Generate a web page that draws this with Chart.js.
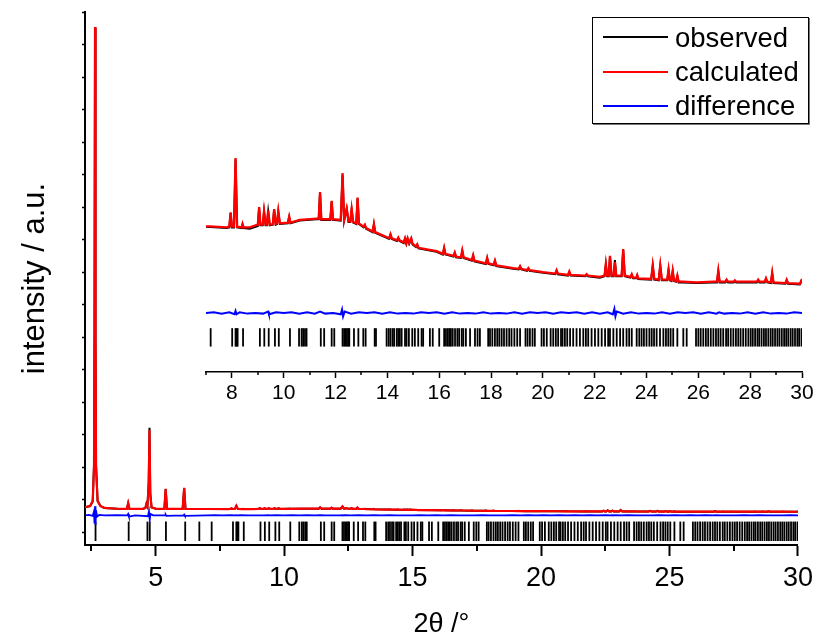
<!DOCTYPE html>
<html>
<head>
<meta charset="utf-8">
<script src="https://cdn.jsdelivr.net/npm/chart.js"></script>
<style>
  html, body { margin: 0; padding: 0; background: #fff; }
  #wrap { position: relative; width: 819px; height: 641px; }
  #wrap canvas { position: absolute; left: 0; top: 0; }
  #legend { position: absolute; left: 592px; top: 17px; width: 217px; height: 107px; box-sizing: border-box;
            border: 1px solid #000; box-shadow: 1px 1px 0 #777; background: #fff;
            font-family: "Liberation Sans", Arial, sans-serif; font-size: 27.5px; color: #000; }
  .sw { position: absolute; left: 10px; width: 65px; height: 2px; }
  .lab { position: absolute; left: 82px; line-height: 27px; white-space: nowrap; }
</style>
</head>
<body>
<div id="wrap">
  <canvas id="main" width="819" height="641"></canvas>
  <canvas id="inset" width="819" height="641"></canvas>
  <div id="legend">
    <div class="sw" style="top:18px;background:#000"></div><div class="lab" style="top:6px">observed</div>
    <div class="sw" style="top:53px;background:#ff0000"></div><div class="lab" style="top:40px">calculated</div>
    <div class="sw" style="top:87px;background:#0000ff"></div><div class="lab" style="top:74px">difference</div>
  </div>
</div>
<script>
// perfil (2theta / grados, intensidad / u.a.)
const profX = [
  2.25,2.45,2.55,2.6,2.62,2.64,2.66,2.68,2.74,2.85,
  3.0,3.5,3.88,3.93,3.98,4.5,4.6,4.64,4.68,4.73,
  4.76,4.79,4.84,5.0,5.34,5.39,5.44,6.05,6.11,6.16,
  7.0,7.8,7.9,7.95,8.0,8.08,8.14,8.2,8.38,8.41,
  8.45,8.69,9.0,9.05,9.1,9.19,9.24,9.3,9.35,9.4,
  9.46,9.58,9.63,9.69,9.74,9.79,9.85,10.16,10.21,10.26,
  10.62,11.27,11.35,11.4,11.45,11.8,11.85,11.9,12.2,12.27,
  12.33,12.43,12.5,12.57,12.62,12.68,12.8,12.85,12.9,13.08,
  13.13,13.18,13.43,13.48,13.53,14.07,14.12,14.17,14.37,14.42,
  14.47,14.63,14.68,14.73,14.78,14.84,14.92,14.97,15.1,15.15,
  15.2,15.9,16.14,16.19,16.24,16.55,16.6,16.65,16.84,16.89,
  16.94,17.26,17.31,17.36,17.8,17.85,17.9,18.1,18.15,18.2,
  18.86,19.07,19.12,19.17,19.39,19.44,19.49,20.01,20.48,20.53,
  20.58,20.97,21.02,21.07,21.64,21.69,21.74,22.2,22.38,22.43,
  22.48,22.54,22.59,22.65,22.73,22.78,22.83,23.04,23.1,23.16,
  23.38,23.43,23.48,23.6,23.64,23.68,24.18,24.24,24.3,24.47,
  24.53,24.59,24.8,24.85,24.9,24.96,25.01,25.06,25.14,25.19,
  25.24,25.42,25.93,26.58,26.72,26.77,26.82,27.04,27.09,27.14,
  27.36,27.41,27.46,27.86,28.26,28.31,28.36,28.56,28.61,28.66,
  28.8,28.85,28.9,29.36,29.41,29.46,29.92,30.0
];
const calcI = [
  760,800,950,2000,6000,15540,6000,2000,950,800,
  740,715,712,890,712,712,740,860,800,1500,
  3140,1200,760,720,712,1330,712,712,1360,712,
  708,706,707,728,707,707,808,707,706,711,
  706,706,710,736,710,710,730,710,710,731,
  710,711,733,711,712,730,712,713,722,713,
  717,719,719,758,718,718,745,718,717,786,
  717,734,715,715,733,714,712,750,712,707,
  710,705,700,711,699,690,696,690,687,691,
  687,684,690,683,690,683,690,682,678,681,
  676,671,667,676,667,664,669,663,662,672,
  662,658,665,657,653,661,653,651,657,650,
  646,645,649,645,643,646,643,640,638,643,
  638,636,641,636,635,637,635,633,635,652,
  635,635,664,635,635,655,635,635,674,635,
  633,637,632,632,636,631,630,650,630,629,
  650,629,629,644,629,628,642,628,627,635,
  626,626,625,626,626,642,626,626,629,626,
  626,628,626,626,626,629,626,626,631,626,
  625,639,625,624,629,624,623,630
];
const obsI = [
  758,798,940,2050,6100,15500,5900,2050,960,798,
  738,713,710,880,710,710,738,870,790,1520,
  3210,1180,758,718,710,1320,710,710,1350,710,
  707,705,706,727,706,706,806,706,705,710,
  705,704,708,735,709,709,729,709,709,729,
  709,710,732,710,711,729,711,712,721,712,
  716,718,718,757,717,717,744,717,716,783,
  716,733,714,714,732,713,711,749,711,706,
  709,704,699,710,698,689,695,689,686,690,
  686,683,689,682,689,682,689,681,677,680,
  675,670,666,675,666,663,668,662,661,671,
  661,657,664,656,652,660,652,650,656,649,
  645,644,648,644,642,645,642,639,637,642,
  637,635,640,635,634,636,634,632,634,651,
  634,634,663,634,634,658,634,634,673,634,
  632,636,631,631,635,630,629,649,629,628,
  649,628,628,643,628,627,641,627,626,634,
  625,625,624,625,625,641,625,625,628,625,
  625,627,625,625,625,628,625,625,630,625,
  624,638,624,623,628,623,622,629
];
// diferencia obs - calc
const diffX = [
  2.25,2.4,2.55,2.6,2.62,2.64,2.66,2.68,2.72,2.8,
  3.0,3.5,3.9,3.93,3.96,4.2,4.7,4.74,4.77,4.8,
  4.9,5.37,5.39,5.42,6.09,6.11,6.14,7.0,7.3,7.6,
  7.9,8.1,8.14,8.18,8.3,8.6,8.9,9.2,9.4,9.43,
  9.7,10.0,10.3,10.6,10.9,11.2,11.4,11.6,11.9,12.2,
  12.25,12.29,12.35,12.6,12.9,13.2,13.5,13.8,14.1,14.4,
  14.7,15.0,15.3,15.6,15.9,16.2,16.5,16.8,17.1,17.4,
  17.7,18.0,18.3,18.6,18.9,19.2,19.5,19.8,20.1,20.4,
  20.7,21.0,21.3,21.6,21.9,22.2,22.5,22.7,22.76,22.8,
  22.85,23.1,23.4,23.7,24.0,24.3,24.6,24.9,25.2,25.5,
  25.8,26.1,26.4,26.7,26.8,27.0,27.3,27.6,27.9,28.2,
  28.5,28.8,29.1,29.4,29.7,30.0
];
const diffI = [
  0,10,-20,120,-250,280,-300,150,-40,10,
  -5,5,0,40,-40,0,-30,120,-130,40,
  0,0,20,-20,0,20,-20,0,1,-1,
  1,-2,3,-2,1,-1,0,-1,2,-2,
  1,0,1,-1,1,-1,2,-1,0,-2,
  5,-5,2,-1,1,0,1,-1,1,-1,
  0,-1,1,0,1,-1,1,-1,0,-1,
  1,-1,0,-1,1,-1,1,0,1,-1,
  1,0,1,-1,1,-1,1,-2,6,-5,
  2,-1,1,-1,0,-1,1,-1,1,0,
  1,-1,1,-1,1,-1,0,-1,1,-1,
  1,-1,0,-1,1,0
];
// posiciones de reflexiones (2theta)
const reflX = [
  2.66,3.95,4.68,4.77,5.4,6.15,6.7,7.18,
  8.01,8.14,8.18,8.22,8.43,9.08,9.25,9.42,9.66,9.81,10.24,10.59,10.69,10.75,10.82,10.88,
  11.43,11.56,11.85,11.95,12.27,12.33,12.39,12.44,12.49,12.53,12.71,12.88,13.07,13.16,13.51,13.56,
  13.97,14.05,14.12,14.2,14.26,14.36,14.42,14.48,14.55,14.68,14.74,14.83,14.96,15.06,15.19,15.32,15.38,
  15.64,15.75,16.0,16.19,16.26,16.33,16.39,16.45,16.52,16.61,16.7,16.77,16.87,16.93,17.03,17.19,17.38,
  17.48,17.57,17.89,17.96,18.05,18.15,18.24,18.32,18.41,18.5,18.6,18.7,18.79,18.9,19.01,19.12,
  19.33,19.41,19.5,19.6,19.69,19.95,20.04,20.15,20.3,20.4,20.5,20.59,20.7,20.76,20.85,20.94,21.05,
  21.17,21.3,21.43,21.56,21.66,21.75,21.88,22.01,22.14,22.27,22.4,22.52,22.59,22.72,22.85,22.98,
  23.1,23.23,23.33,23.43,23.62,23.72,23.81,23.9,24.0,24.11,24.2,24.29,24.39,24.52,24.65,24.75,24.84,
  24.93,25.03,25.19,25.42,25.55,25.91,26.0,26.09,26.19,26.29,26.38,26.48,26.58,26.68,26.77,26.86,
  26.96,27.07,27.15,27.25,27.35,27.45,27.54,27.63,27.73,27.83,27.93,28.02,28.1,28.19,28.28,28.35,
  28.44,28.53,28.61,28.7,28.79,28.87,28.96,29.05,29.13,29.22,29.31,29.39,29.47,29.56,29.64,29.73,
  29.82,29.89,29.98
];
// ejes
const mainXTicks = [2.5,5,7.5,10,12.5,15,17.5,20,22.5,25,27.5,30];
const mainYTicks = [0,1000,2000,3000,4000,5000,6000,7000,8000,9000,10000,11000,12000,13000,14000,15000,16000];
const insetXTicks = [7,8,9,10,11,12,13,14,15,16,17,18,19,20,21,22,23,24,25,26,27,28,29,30];

Chart.defaults.font.family = '"Liberation Sans", Arial, sans-serif';
Chart.defaults.color = '#000';

let puntos = (xs, ys, off) => xs.map((x, i) => ({x: x, y: ys[i] + off}));

let serie = (data, color, width, order) => ({
  data: data, borderColor: color, backgroundColor: color, borderWidth: width,
  pointRadius: 0, tension: 0, fill: false, order: order
});

let reflexiones = (yPos, r) => ({
  type: 'scatter', data: reflX.map(x => ({x: x, y: yPos})),
  pointStyle: 'line', rotation: 90, pointRadius: r, pointHoverRadius: r,
  borderColor: '#000', borderWidth: 1.8, order: 4
});

//Marcas menores del eje x, más cortas que las mayores
const minorTicks = {
  id: 'minorTicks',
  afterDraw(chart, args, opts) {
    let sc = chart.scales.x;
    let ctx = chart.ctx;
    ctx.save();
    ctx.strokeStyle = '#000';
    ctx.lineWidth = opts.width;
    opts.values.forEach(v => {
      let px = Math.round(sc.getPixelForValue(v));
      ctx.beginPath();
      ctx.moveTo(px, sc.top);
      ctx.lineTo(px, sc.top + opts.len);
      ctx.stroke();
    });
    ctx.restore();
  }
};

let comunes = {
  animation: false, responsive: false, devicePixelRatio: 1, events: [],
  plugins: { legend: {display: false}, tooltip: {enabled: false} }
};

//Gráfico principal
new Chart(document.getElementById('main'), {
  type: 'line',
  data: {
    datasets: [
      serie(puntos(profX, calcI, 0), '#ff0000', 2.2, 0),
      serie(puntos(profX, obsI, 0), '#000000', 2, 1),
      serie(puntos(diffX, diffI, 514), '#0000ff', 1.8, 2),
      reflexiones(22, 9.7)
    ]
  },
  plugins: [minorTicks],
  options: Object.assign({}, comunes, {
    layout: { padding: {left: 0, right: 17, top: 12, bottom: 0} },
    plugins: Object.assign({}, comunes.plugins, {
      minorTicks: { values: [2.5,7.5,12.5,17.5,22.5,27.5], len: 6, width: 2 }
    }),
    scales: {
      x: {
        type: 'linear', min: 2.25, max: 30,
        afterBuildTicks: s => { s.ticks = mainXTicks.map(v => ({value: v})); },
        afterFit: s => { s.height = 96; },
        border: {display: true, color: '#000', width: 2},
        grid: { drawOnChartArea: false, drawTicks: true, tickLength: 11, tickWidth: 2,
                tickColor: c => (c.tick && c.tick.value % 5 === 0) ? '#000' : 'rgba(0,0,0,0)' },
        ticks: { autoSkip: false, maxRotation: 0, padding: 6, font: {size: 27},
                 callback: v => (v % 5 === 0 ? String(v) : '') },
        title: { display: true, text: '2θ /°', font: {size: 27}, padding: {top: 0, bottom: 0} }
      },
      y: {
        type: 'linear', min: -400, max: 16000,
        afterBuildTicks: s => { s.ticks = mainYTicks.map(v => ({value: v})); },
        afterFit: s => { s.width = 85; },
        border: {display: true, color: '#000', width: 2},
        grid: { drawOnChartArea: false, drawTicks: true, tickLength: 3, tickWidth: 1.5, tickColor: '#000' },
        ticks: { display: false },
        title: { display: true, text: 'intensity / a.u.', font: {size: 31}, padding: {top: 17, bottom: 0} }
      }
    }
  })
});

//Gráfico insertado (ampliación 7-30°)
new Chart(document.getElementById('inset'), {
  type: 'line',
  data: {
    datasets: [
      serie(puntos(profX, calcI, 0), '#ff0000', 2.3, 0),
      serie(puntos(profX, obsI, 0), '#000000', 2, 1),
      serie(puntos(diffX, diffI, 580), '#0000ff', 2, 2),
      reflexiones(544, 9.2)
    ]
  },
  plugins: [minorTicks],
  options: Object.assign({}, comunes, {
    layout: { padding: {left: 206, right: 17, top: 150, bottom: 0} },
    plugins: Object.assign({}, comunes.plugins, {
      minorTicks: { values: [7,9,11,13,15,17,19,21,23,25,27,29], len: 3, width: 1.5 }
    }),
    scales: {
      x: {
        type: 'linear', min: 7, max: 30,
        afterBuildTicks: s => { s.ticks = insetXTicks.map(v => ({value: v})); },
        afterFit: s => { s.height = 269; },
        border: {display: true, color: '#000', width: 1.5},
        grid: { drawOnChartArea: false, drawTicks: true, tickLength: 6, tickWidth: 1.5,
                tickColor: c => (c.tick && c.tick.value % 2 === 0) ? '#000' : 'rgba(0,0,0,0)' },
        ticks: { autoSkip: false, maxRotation: 0, padding: 3, font: {size: 21},
                 callback: v => (v % 2 === 0 ? String(v) : '') }
      },
      y: { type: 'linear', display: false, min: 493, max: 820 }
    }
  })
});
</script>
</body>
</html>
